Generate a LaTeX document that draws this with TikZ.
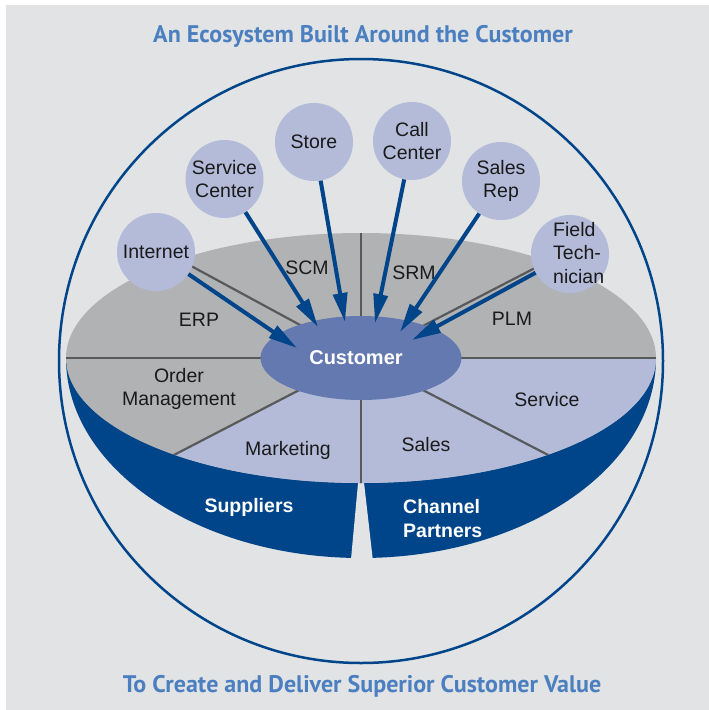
\documentclass[tikz,border=0pt]{standalone}
\usepackage{fontspec}
\setmainfont{Liberation Sans}
\newfontfamily\titlefont{PT Sans}
\usetikzlibrary{arrows.meta,shapes.geometric}
\definecolor{bgc}{HTML}{E1E3E5}
\definecolor{rimc}{HTML}{00458A}
\definecolor{grayc}{HTML}{B1B2B4}
\definecolor{lav}{HTML}{B3BBD9}
\definecolor{custc}{HTML}{6479AF}
\definecolor{divc}{HTML}{58595B}
\definecolor{ttl}{HTML}{4B7FC0}
\definecolor{txt}{HTML}{1A1A1A}
\begin{document}
\begin{tikzpicture}[x=1pt,y=-1pt,
  lbl/.style={font=\fontsize{19.5}{23.5}\selectfont, text=txt, inner sep=0pt, align=center},
  wlbl/.style={font=\fontsize{19.5}{24}\selectfont\bfseries, text=white, inner sep=0pt, align=left},
  bub/.style={circle, fill=lav, minimum size=78pt, inner sep=0pt, text=txt,
              font=\fontsize{19.5}{23.5}\selectfont, align=center},
  arr/.style={draw=rimc, line width=4pt, -{Triangle[length=29pt,width=14pt]}},
  divline/.style={draw=divc, line width=2.2pt},
  ttlstyle/.style={font=\titlefont\bfseries\fontsize{24}{28}\selectfont, text=ttl, inner sep=0pt}]
\useasboundingbox (0,0) rectangle (709,710);
\fill[white] (0,0) rectangle (709,710);
\fill[bgc] (6,5) rectangle (709,710);
% outer circle
\draw[rimc, line width=2.5pt] (361,361) circle [radius=302pt];
% rim
\begin{scope}
  \clip (0,358) rectangle (709,710);
  \fill[rimc] (361,358) ellipse [x radius=295pt, y radius=200pt];
\end{scope}
\fill[bgc] (358.5,478) -- (363.5,478) -- (374,570) -- (350,570) -- cycle;
% top disc
\fill[grayc] (361,358) ellipse [x radius=295pt, y radius=125pt];
\begin{scope}
  \clip (361,358) ellipse [x radius=295pt, y radius=125pt];
  \fill[lav] (361,358) -- (-17,554) -- (-17,710) -- (750,710) -- (750,358) -- cycle;
  \draw[divline] (0,358) -- (720,358);
  \draw[divline] (361,200) -- (361,520);
  \draw[divline] (361,358) -- ++(-336,-182);
  \draw[divline] (361,358) -- ++(344,-178);
  \draw[divline] (361,358) -- ++(-378,196);
  \draw[divline] (361,358) -- ++(382,198);
\end{scope}
% customer
\node[ellipse, fill=custc, minimum width=201pt, minimum height=84pt, inner sep=0pt] (cust) at (361,358) {};
\node[font=\fontsize{20}{24}\selectfont\bfseries, text=white, inner sep=0pt] (custlbl) at (356,358) {Customer};
% segment labels
\node[lbl] (erp) at (199,320) {ERP};
\node[lbl] (scm) at (307,268) {SCM};
\node[lbl] (srm) at (414,273) {SRM};
\node[lbl] (plm) at (512,319) {PLM};
\node[lbl] (om) at (179,389) {Order\\Management};
\node[lbl] (mkt) at (288,450) {Marketing};
\node[lbl] (sales) at (426,445) {Sales};
\node[lbl] (serv) at (547,400) {Service};
\node[wlbl] (sup) at (249,507) {Suppliers};
\node[wlbl, anchor=west] (chp) at (403,519) {Channel\\Partners};
% titles
\node[ttlstyle] (t1) at (363,36) {An Ecosystem Built Around the Customer};
\node[ttlstyle] (t2) at (362,686) {To Create and Deliver Superior Customer Value};
% bubbles
\node[bub] (internet) at (156,252) {Internet};
\node[bub] (svc) at (224.5,179) {Service\\Center};
\node[bub] (store) at (314,142) {Store};
\node[bub] (call) at (412,141) {Call\\Center};
\node[bub] (rep) at (501,181) {Sales\\Rep};
\node[bub] (field) at (570,254) {};
\node[lbl, align=left, anchor=west] (fieldlbl) at (553,253) {Field\\Tech-\\nician};
% arrow tips
\coordinate (tA) at (297,348);
\coordinate (tB) at (318,327);
\coordinate (tC) at (345,322);
\coordinate (tD) at (375,323);
\coordinate (tE) at (400,332);
\coordinate (tF) at (412,340);
\draw[arr] (internet) -- (tA);
\draw[arr] (svc) -- (tB);
\draw[arr] (store) -- (tC);
\draw[arr] (call) -- (tD);
\draw[arr] (rep) -- (tE);
\draw[arr] (field) -- (tF);
\end{tikzpicture}
\end{document}
